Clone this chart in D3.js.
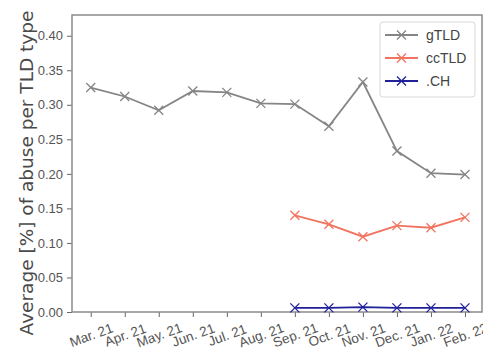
<!DOCTYPE html>
<html>
<head>
<meta charset="utf-8">
<script src="https://cdn.jsdelivr.net/npm/d3@7"></script>
<style>
  body { margin: 0; background: #fff; }
  svg { font-family: "Liberation Sans", Arial, sans-serif; }
</style>
</head>
<body>
<div id="chart"></div>
<script>
var months = ["Mar. 21", "Apr. 21", "May. 21", "Jun. 21", "Jul. 21", "Aug. 21",
              "Sep. 21", "Oct. 21", "Nov. 21", "Dec. 21", "Jan. 22", "Feb. 22"];
var gtld = [0.325, 0.312, 0.292, 0.320, 0.318, 0.302, 0.301, 0.269, 0.333, 0.233, 0.201, 0.199];
var cctld = [null, null, null, null, null, null, 0.140, 0.127, 0.109, 0.125, 0.122, 0.137];
var ch = [null, null, null, null, null, null, 0.006, 0.006, 0.007, 0.006, 0.006, 0.006];
var yTicks = [0.00, 0.05, 0.10, 0.15, 0.20, 0.25, 0.30, 0.35, 0.40];
var seriesNames = ["gTLD", "ccTLD", ".CH"];
var seriesColors = ["#858585", "#f2745f", "#20209a"];

var width = 483, height = 350;
// plot box (the window has a read-only "top", so use own names)
var plotLeft = 72, plotTop = 15, plotRight = 482, plotBottom = 312;

var svg = d3.select("#chart").append("svg")
    .attr("width", width)
    .attr("height", height);

var x = d3.scaleLinear()
    .domain([-0.55, months.length - 1 + 0.5])
    .range([plotLeft, plotRight]);

var y = d3.scaleLinear()
    .domain([0, 0.43])
    .range([plotBottom, plotTop]);

// y axis
var yAxis = svg.append("g")
    .attr("transform", "translate(" + plotLeft + ",0)")
    .call(d3.axisLeft(y).tickValues(yTicks).tickFormat(d3.format(".2f")).tickSize(5).tickPadding(4));
yAxis.select(".domain").remove();
yAxis.selectAll("line").attr("stroke", "#666");
yAxis.selectAll("text").attr("fill", "#555").style("font-size", "13px");

// x axis, labels tilted and centred on the tick
var xAxis = svg.append("g")
    .attr("transform", "translate(0," + plotBottom + ")")
    .call(d3.axisBottom(x).tickValues(d3.range(months.length)).tickFormat(function (i) { return months[i]; }).tickSize(5));
xAxis.select(".domain").remove();
xAxis.selectAll("line").attr("stroke", "#666");
xAxis.selectAll("text")
    .attr("fill", "#555")
    .style("font-size", "13.5px")
    .attr("text-anchor", "middle")
    .attr("dy", "0.35em")
    .attr("y", 0)
    .attr("transform", "translate(0,23) rotate(-20)");

// frame
svg.append("rect")
    .attr("x", plotLeft)
    .attr("y", plotTop)
    .attr("width", plotRight - plotLeft)
    .attr("height", plotBottom - plotTop)
    .attr("fill", "none")
    .attr("stroke", "#8a8a8a")
    .attr("stroke-width", 1.5);

// y label
svg.append("text")
    .attr("transform", "translate(33,173) rotate(-90)")
    .attr("text-anchor", "middle")
    .attr("fill", "#4a4a4a")
    .style("font-family", "'DejaVu Sans', sans-serif")
    .style("font-size", "18.5px")
    .text("Average [%] of abuse per TLD type");

var allSeries = [gtld, cctld, ch];

var line = d3.line()
    .defined(function (d) { return d != null; })
    .x(function (d, i) { return x(i); })
    .y(function (d) { return y(d); });

function cross(g, cx, cy, s, color) {
    g.append("path")
        .attr("d", "M" + (cx - s) + "," + (cy - s) + "L" + (cx + s) + "," + (cy + s) +
                   "M" + (cx - s) + "," + (cy + s) + "L" + (cx + s) + "," + (cy - s))
        .attr("stroke", color)
        .attr("stroke-width", 1.3)
        .attr("fill", "none");
}

allSeries.forEach(function (vals, k) {
    var g = svg.append("g");
    g.append("path")
        .datum(vals)
        .attr("d", line)
        .attr("fill", "none")
        .attr("stroke", seriesColors[k])
        .attr("stroke-width", 1.8);
    vals.forEach(function (v, i) {
        if (v != null) cross(g, x(i), y(v), 4.5, seriesColors[k]);
    });
});

// legend
var lg = svg.append("g");
lg.append("rect")
    .attr("x", 380)
    .attr("y", 22)
    .attr("width", 95)
    .attr("height", 75)
    .attr("rx", 3)
    .attr("fill", "#fff")
    .attr("stroke", "#d8d8d8");
seriesNames.forEach(function (name, k) {
    var ly = 35 + k * 23;
    lg.append("line")
        .attr("x1", 385).attr("x2", 418)
        .attr("y1", ly).attr("y2", ly)
        .attr("stroke", seriesColors[k])
        .attr("stroke-width", 1.8);
    cross(lg, 401.5, ly, 4.5, seriesColors[k]);
    lg.append("text")
        .attr("x", 426)
        .attr("y", ly + 5)
        .attr("fill", "#444")
        .style("font-size", "14px")
        .text(name);
});
</script>
</body>
</html>
